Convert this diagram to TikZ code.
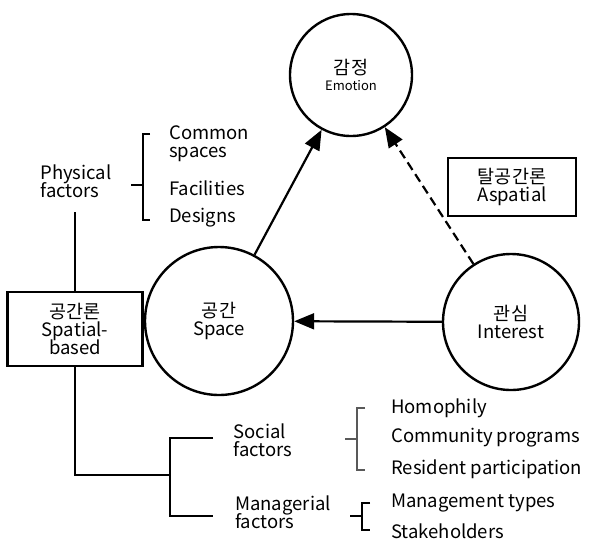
\documentclass[tikz,border=0pt]{standalone}
\usepackage{fontspec}
\setmainfont{Noto Sans CJK KR}
\usetikzlibrary{arrows.meta}
\tikzset{
  concept/.style = {draw, circle, line width=2.4pt, minimum size=#1, align=center, font=\fontsize{18.5}{21}\selectfont},
  theory/.style  = {draw, rectangle, line width=2.4pt, align=center, font=\fontsize{18.5}{21}\selectfont, inner sep=2pt},
  factor/.style  = {align=left, font=\fontsize{18.5}{21}\selectfont, inner sep=0pt},
  item/.style    = {anchor=west, align=left, font=\fontsize{18.5}{21}\selectfont, inner sep=0pt},
  link/.style    = {line width=2.2pt, -{Triangle[length=20pt,width=16pt]}},
  tree/.style    = {line width=2.2pt}
}
\begin{document}
\begin{tikzpicture}[x=1pt,y=-1pt]
  \useasboundingbox (0,0) rectangle (600,547);
  % the three concepts
  \node [concept=122pt] (emotion) at (351,75) {감정\\[-5pt]{\fontsize{13}{15}\selectfont Emotion}};
  \node [concept=148pt] (space) at (219,321) {공간\\[-3pt]Space};
  \node [concept=136pt] (interest) at (511,322) {관심\\[-3pt]Interest};
  % theory boxes
  \node [theory, minimum width=135pt, minimum height=74pt] (spatial) at (75,329) {공간론\\[-3pt]Spatial-\\[-3pt]based};
  \node [theory, minimum width=128pt, minimum height=58pt] (aspatial) at (512,187) {탈공간론\\[-3pt]Aspatial};
  % links between concepts
  \draw [link] (space) -- (emotion);
  \draw [link, dash pattern=on 9pt off 5pt] (interest) -- (emotion);
  \draw [link] (interest) -- (space);
  % factors
  \node [factor] (physical) at (76,181) {Physical\\[-3pt]factors};
  \node [factor] (social) at (263,440) {Social\\[-3pt]factors};
  \node [factor] (managerial) at (283,512) {Managerial\\[-3pt]factors};
  \coordinate (top) at (75,212);
  \coordinate (split) at (170,475);
  \draw [tree] (top) -- (spatial.north);
  \draw [tree] (spatial.south) |- (split);
  \draw [tree] (213,438) -- (170,438) -- (170,516) -- (213,516);
  % physical items
  \node [item] (common) at (169,144) {Common\\[-3pt]spaces};
  \node [item] (facilities) at (169,188) {Facilities};
  \node [item] (designs) at (169,218) {Designs};
  \draw [tree] (150,134) -- (143,134) -- (143,220) -- (150,220) (131,185) -- (143,185);
  % social items
  \node [item] (homophily) at (391,408) {Homophily};
  \node [item] (programs) at (391,438) {Community programs};
  \node [item] (participation) at (391,469) {Resident participation};
  \draw [tree, gray!70!black] (365,408) -- (357,408) -- (357,470) -- (365,470) (345,439) -- (357,439);
  % managerial items
  \node [item] (types) at (391,503) {Management types};
  \node [item] (stakeholders) at (391,531) {Stakeholders};
  \draw [tree] (370,503) -- (362,503) -- (362,530) -- (370,530) (350,516) -- (362,516);
\end{tikzpicture}
\end{document}
